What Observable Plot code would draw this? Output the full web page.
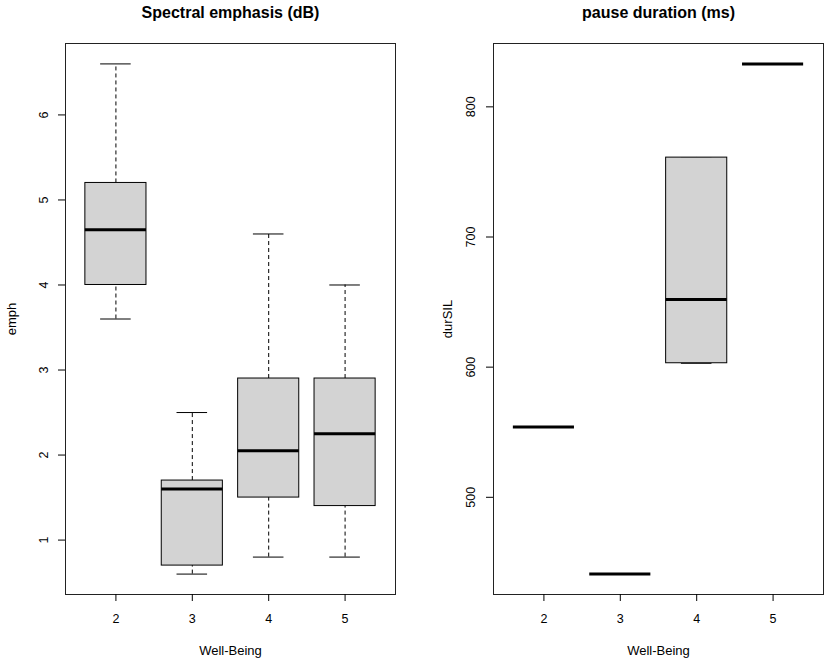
<!DOCTYPE html>
<html>
<head>
<meta charset="utf-8">
<script src="https://cdn.jsdelivr.net/npm/d3@7"></script>
<script src="https://cdn.jsdelivr.net/npm/@observablehq/plot@0.6"></script>
<style>
  body { margin: 0; background: #fff; }
  #wrap { display: flex; width: 829px; height: 663px; }
  svg { font-family: "Liberation Sans", Arial, sans-serif; }
</style>
</head>
<body>
<div id="wrap"></div>
<script>
// Well-Being categories
const categories = [2, 3, 4, 5];
const xTicks = [2, 3, 4, 5];

// Spectral emphasis (dB) box statistics
const emphLow  = [3.6, 0.6, 0.8, 0.8];
const emphQ1   = [4.0, 0.7, 1.5, 1.4];
const emphMed  = [4.65, 1.6, 2.05, 2.25];
const emphQ3   = [5.2, 1.7, 2.9, 2.9];
const emphHigh = [6.6, 2.5, 4.6, 4.0];
const emphTicks = [1, 2, 3, 4, 5, 6];

// pause duration (ms) box statistics
const durLow  = [554, 441, 603, 833];
const durQ1   = [554, 441, 603, 833];
const durMed  = [554, 441, 652, 833];
const durQ3   = [554, 441, 761, 833];
const durHigh = [554, 441, 761, 833];
const durTicks = [500, 600, 700, 800];

function rows(low, q1, med, q3, high) {
  return categories.map((c, i) => ({wb: c, low: low[i], q1: q1[i], med: med[i], q3: q3[i], high: high[i]}));
}

function extent4(low, high) {
  const mn = d3.min(low), mx = d3.max(high), r = mx - mn;
  return [mn - 0.04 * r, mx + 0.04 * r];
}

function panel({data, yDomain, yTicks, title, yLabel, width, marginLeft, marginRight, tickDx, labelDx}) {
  const n = categories.length;
  const xr = n; // (n-1) + 0.5 each side
  const xDomain = [categories[0] - 0.5 - 0.04 * xr, categories[n - 1] + 0.5 + 0.04 * xr];
  const bw = 0.4, cw = 0.2;
  return Plot.plot({
    width, height: 663,
    marginTop: 43, marginBottom: 69, marginLeft, marginRight,
    style: {fontFamily: "Liberation Sans, Arial, sans-serif", fontSize: "12px", color: "black", background: "white"},
    x: {domain: xDomain, axis: null},
    y: {domain: yDomain, axis: null},
    marks: [
      // whiskers
      Plot.ruleX(data, {x: "wb", y1: "q3", y2: "high", stroke: "black", strokeDasharray: "4,3"}),
      Plot.ruleX(data, {x: "wb", y1: "low", y2: "q1", stroke: "black", strokeDasharray: "4,3"}),
      // staples
      Plot.ruleY(data, {y: "high", x1: d => d.wb - cw, x2: d => d.wb + cw, stroke: "black"}),
      Plot.ruleY(data, {y: "low", x1: d => d.wb - cw, x2: d => d.wb + cw, stroke: "black"}),
      // boxes
      Plot.rect(data.filter(d => d.q3 > d.q1), {x1: d => d.wb - bw, x2: d => d.wb + bw, y1: "q1", y2: "q3", fill: "#d3d3d3", stroke: "black", strokeWidth: 1}),
      // medians
      Plot.ruleY(data, {y: "med", x1: d => d.wb - bw, x2: d => d.wb + bw, stroke: "black", strokeWidth: 3}),
      Plot.frame({stroke: "#222", strokeWidth: 1}),
      // axes ticks
      Plot.axisX(xTicks, {tickSize: 7, tickFormat: () => "", label: null, stroke: "black"}),
      Plot.axisY(yTicks, {tickSize: 7, tickFormat: () => "", label: null, stroke: "black"}),
      // tick labels
      Plot.text(xTicks, {x: d => d, frameAnchor: "bottom", dy: 24, text: d => String(d), lineAnchor: "middle", fontSize: 12.5, fill: "black"}),
      Plot.text(yTicks, {y: d => d, frameAnchor: "left", dx: tickDx, text: d => String(d), rotate: -90, textAnchor: "middle", lineAnchor: "middle", fontSize: 12.5, fill: "black"}),
      // titles and axis labels
      Plot.text([title], {frameAnchor: "top", dy: -31, text: d => d, fontWeight: "bold", fontSize: 16, lineAnchor: "middle", fill: "black"}),
      Plot.text(["Well-Being"], {frameAnchor: "bottom", dy: 56, text: d => d, fontSize: 13, lineAnchor: "middle", fill: "black"}),
      Plot.text([yLabel], {frameAnchor: "left", dx: labelDx, text: d => d, rotate: -90, fontSize: 13, textAnchor: "middle", lineAnchor: "middle", fill: "black"})
    ]
  });
}

const emphData = rows(emphLow, emphQ1, emphMed, emphQ3, emphHigh);
const durData = rows(durLow, durQ1, durMed, durQ3, durHigh);

const left = panel({
  data: emphData, yDomain: extent4(emphLow, emphHigh), yTicks: emphTicks,
  title: "Spectral emphasis (dB)", yLabel: "emph",
  width: 414, marginLeft: 65, marginRight: 19, tickDx: -22, labelDx: -54
});
const right = panel({
  data: durData, yDomain: extent4(durLow, durHigh), yTicks: durTicks,
  title: "pause duration (ms)", yLabel: "durSIL",
  width: 415, marginLeft: 79, marginRight: 6, tickDx: -23, labelDx: -46
});
document.getElementById("wrap").append(left, right);
</script>
</body>
</html>
